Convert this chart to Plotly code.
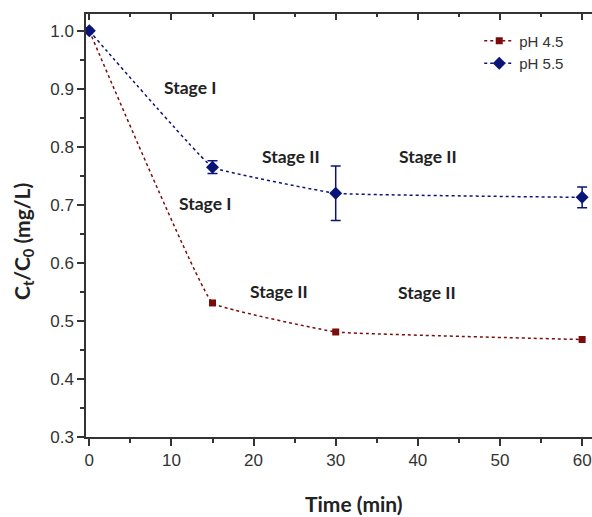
import plotly.graph_objects as go

time = [0, 15, 30, 60]
ph45 = [1.0, 0.531, 0.481, 0.468]
ph55 = [1.0, 0.765, 0.720, 0.713]
ph55_err = [0.0, 0.011, 0.047, 0.018]

labels = ["Stage I", "Stage I", "Stage II", "Stage II", "Stage II", "Stage II"]
label_x = [12.3, 14.1, 24.5, 41.2, 23.1, 41.1]
label_y = [0.903, 0.702, 0.783, 0.783, 0.551, 0.549]

x_title = "Time (min)"
y_title = "C<sub>t</sub>/C<sub>0</sub> (mg/L)"

red = "#7a0c0c"
blue = "#0a1478"
ink = "#333333"

fig = go.Figure()
fig.add_trace(go.Scatter(
    x=time, y=ph45, name="pH 4.5", mode="lines+markers",
    line=dict(color=red, width=1.5, dash="dot", shape="spline", smoothing=0.2),
    marker=dict(symbol="square", size=7, color=red),
))
fig.add_trace(go.Scatter(
    x=time, y=ph55, name="pH 5.5", mode="lines+markers",
    line=dict(color=blue, width=1.5, dash="dot", shape="spline", smoothing=0.2),
    marker=dict(symbol="diamond", size=10, color=blue),
    error_y=dict(type="data", array=ph55_err, color=blue, thickness=1.5, width=5),
))
# invisible trace carrying the top frame axis
fig.add_trace(go.Scatter(x=[0], y=[0.3], xaxis="x2", showlegend=False,
                         mode="markers", marker=dict(opacity=0), hoverinfo="skip"))

for t, xx, yy in zip(labels, label_x, label_y):
    fig.add_annotation(x=xx, y=yy, text="<b>" + t + "</b>", showarrow=False,
                       font=dict(family="Lato", size=17.5, color="#222222"))

fig.add_annotation(xref="paper", yref="paper", x=0.53, y=-0.157, xanchor="center", yanchor="middle",
                   text="<b>" + x_title + "</b>",
                   showarrow=False, font=dict(family="Lato", size=21, color="#222222"))
fig.add_annotation(xref="paper", yref="paper", x=-0.1245, y=0.461, xanchor="center", yanchor="middle",
                   text="<b>" + y_title + "</b>",
                   showarrow=False, textangle=-90, font=dict(family="Lato", size=21, color="#222222"))

fig.update_layout(
    width=592, height=517,
    margin=dict(l=86, r=0, t=14, b=80),
    plot_bgcolor="white", paper_bgcolor="white",
    font=dict(family="Liberation Sans, Arial", size=17, color=ink),
    legend=dict(x=0.955, y=0.975, xanchor="right", yanchor="top",
                bgcolor="rgba(0,0,0,0)", font=dict(size=15, color=ink),
                itemwidth=30, tracegroupgap=0),
    xaxis=dict(range=[-0.4, 61.2], tickvals=[0, 10, 20, 30, 40, 50, 60],
               ticks="outside", ticklen=7, tickwidth=1.5, tickcolor=ink,
               tickfont=dict(size=17, color=ink),
               minor=dict(dtick=5, tick0=0, ticks="outside", ticklen=4, tickcolor=ink, tickwidth=1.5),
               showline=True, linecolor=ink, linewidth=1.5, showgrid=False, zeroline=False),
    xaxis2=dict(overlaying="x", side="top", range=[-0.4, 61.2], tickvals=[0, 10, 20, 30, 40, 50, 60],
                ticks="inside", ticklen=6, tickwidth=1.5, tickcolor=ink, showticklabels=False,
                minor=dict(dtick=5, tick0=0, ticks="inside", ticklen=3, tickcolor=ink, tickwidth=1.5),
                showline=True, linecolor=ink, linewidth=1.5, showgrid=False, zeroline=False),
    yaxis=dict(range=[0.3, 1.029], tickvals=[0.3, 0.4, 0.5, 0.6, 0.7, 0.8, 0.9, 1.0],
               tickformat=".1f",
               ticks="outside", ticklen=7, tickwidth=1.5, tickcolor=ink,
               tickfont=dict(size=17, color=ink),
               minor=dict(dtick=0.05, tick0=0.3, ticks="outside", ticklen=4, tickcolor=ink, tickwidth=1.5),
               showline=True, linecolor=ink, linewidth=1.5, showgrid=False, zeroline=False),
)

fig.write_html("out.html")
